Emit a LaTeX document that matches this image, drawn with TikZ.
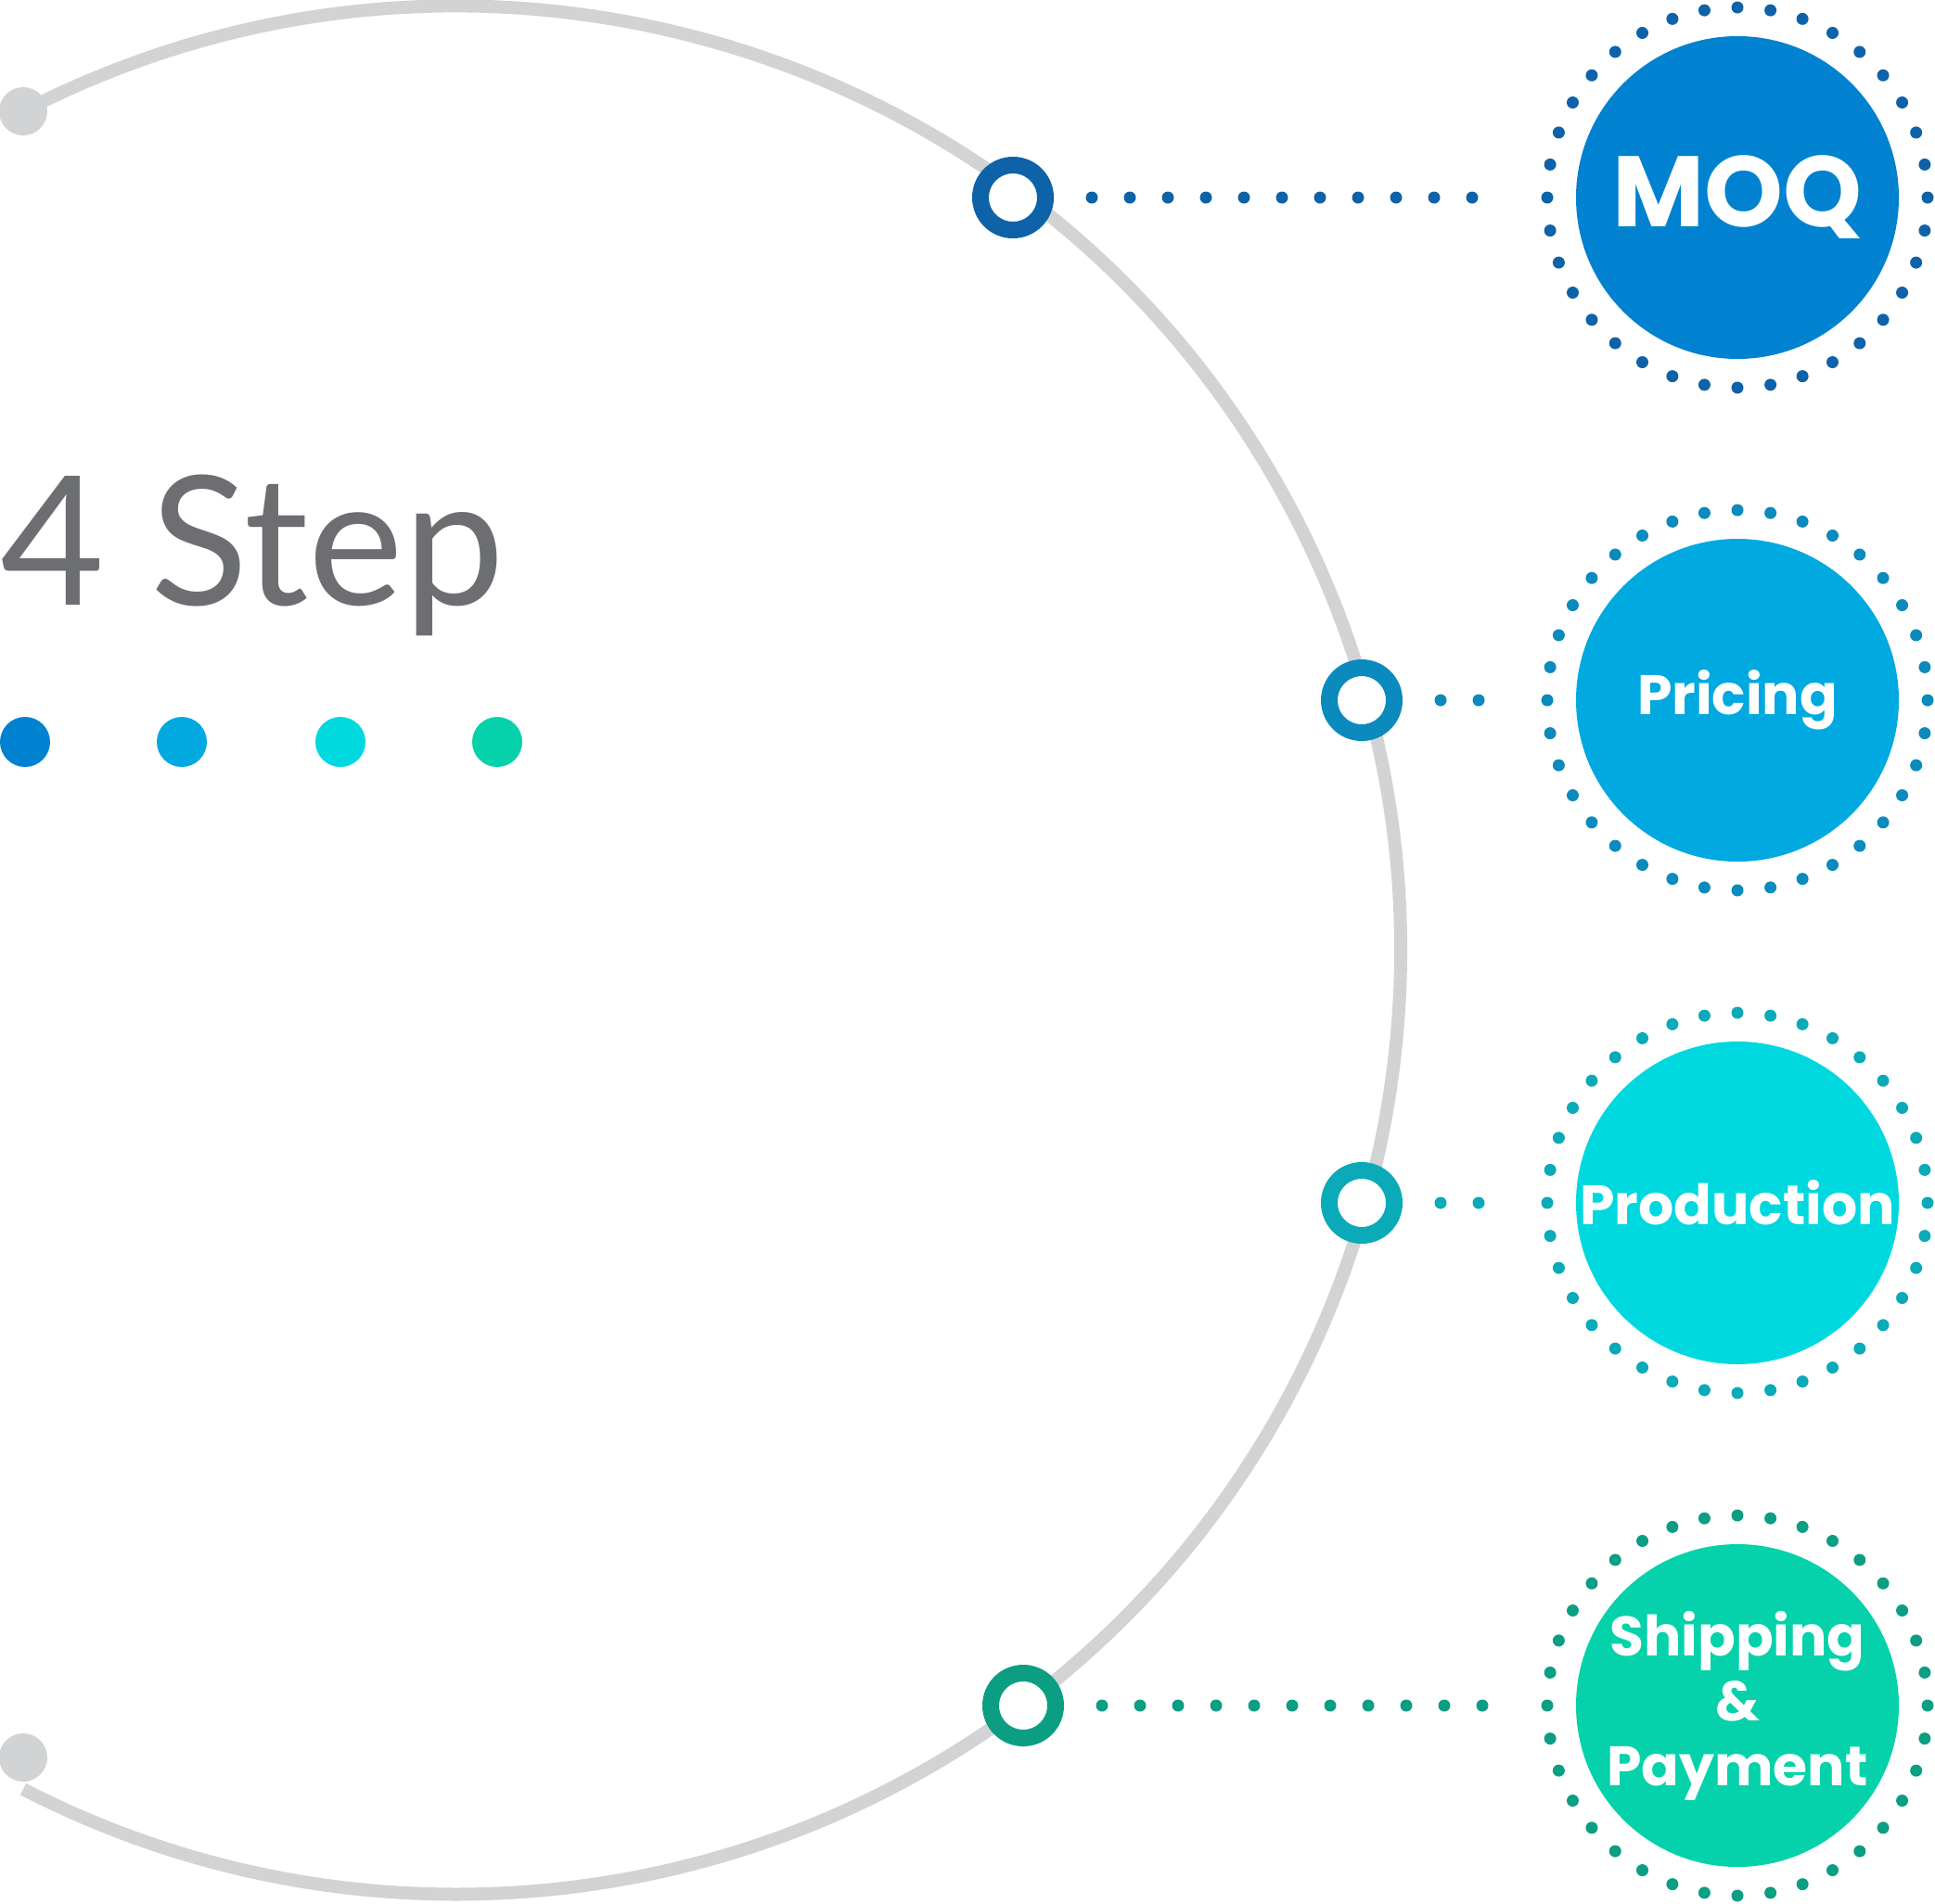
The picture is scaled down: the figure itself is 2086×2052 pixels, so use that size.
\documentclass[tikz,border=0pt]{standalone}
\usepackage{fontspec}
\setmainfont{Poppins}
\newfontfamily\thinf{Lato}
\definecolor{arcg}{HTML}{D1D3D4}
\definecolor{txtg}{HTML}{6D6E71}
\definecolor{cA}{HTML}{0082D0}\definecolor{cB}{HTML}{00A9E0}
\definecolor{cC}{HTML}{00D8E0}\definecolor{cD}{HTML}{05D2AA}
\definecolor{rA}{HTML}{0E62A8}\definecolor{rB}{HTML}{0A8ABD}
\definecolor{rC}{HTML}{0AAAB8}\definecolor{rD}{HTML}{0B9E82}
\begin{document}
\begin{tikzpicture}[x=0.5pt,y=-0.5pt,
  ring/.style={circle,draw=#1,line width=9pt,fill=white,minimum size=35pt,inner sep=0},
  big/.style={circle,fill=#1,minimum size=174pt,inner sep=0,text=white,font=\bfseries,align=center},
  dotc/.style={circle,fill=#1,minimum size=6.5pt,inner sep=0}]
\useasboundingbox (0,0) rectangle (2086,2052);
\draw[arcg,line width=7pt] (25,120) arc[start angle=-117.3,end angle=117.3,radius=1018];
\node[dotc=arcg,minimum size=26pt] (e1) at (25,120) {};
\node[dotc=arcg,minimum size=26pt] (e2) at (25,1895) {};
\node[anchor=base west,text=txtg,font=\thinf\fontsize{97}{97}\selectfont,inner sep=0] (t) at (0,652) {4 Step};
\foreach \x/\c in {27/cA,196/cB,367/cC,536/cD} \node[dotc=\c,minimum size=27pt] at (\x,800) {};
\foreach \i/\y/\rx/\fc/\rc/\lab/\fs in {
  1/213/1092/cA/rA/MOQ/54,
  2/755/1468/cB/rB/Pricing/30,
  3/1297/1468/cC/rC/Production/30,
  4/1839/1103/cD/rD/{Shipping\\\&\\Payment}/30}{
  \node[ring=\rc] (r\i) at (\rx,\y) {};
  \node[big=\fc,font=\bfseries\fontsize{\fs}{35}\selectfont] (b\i) at (1873,\y) {\lab};
  \foreach \k in {0,...,35} \fill[\rc] (1873,\y) ++(\k*10:205) circle[radius=6.5];
  \coordinate (s\i) at (1628,\y);
  \draw[\rc,line width=6.5pt,line cap=round,dash pattern=on 0pt off 20.5pt] (r\i.east) ++(41,0) coordinate (q\i) -- (s\i);
}
\end{tikzpicture}
\end{document}
